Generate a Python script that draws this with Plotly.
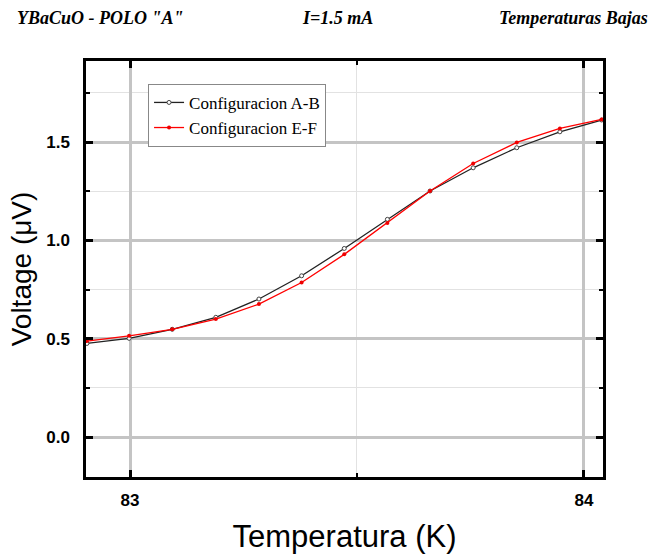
import plotly.graph_objects as go

temp = [82.905, 82.998, 83.093, 83.189, 83.284, 83.378, 83.472, 83.567, 83.661, 83.756, 83.852, 83.947, 84.039]
v_ab = [0.476, 0.502, 0.548, 0.609, 0.702, 0.820, 0.959, 1.107, 1.251, 1.369, 1.471, 1.552, 1.612]
v_ef = [0.488, 0.515, 0.548, 0.600, 0.676, 0.786, 0.929, 1.089, 1.251, 1.391, 1.498, 1.569, 1.615]

x_ticks = [83, 84]
y_ticks = [0.0, 0.5, 1.0, 1.5]
y_tick_labels = ["0.0", "0.5", "1.0", "1.5"]

fig = go.Figure()
fig.add_trace(go.Scatter(
    x=temp, y=v_ab, mode="lines+markers", name="Configuracion A-B",
    line=dict(color="#222222", width=1.3),
    marker=dict(symbol="circle", size=4, color="white", line=dict(color="#444444", width=1)),
))
fig.add_trace(go.Scatter(
    x=temp, y=v_ef, mode="lines+markers", name="Configuracion E-F",
    line=dict(color="#ff0000", width=1.3),
    marker=dict(symbol="circle", size=4, color="#ee0000"),
))

axis_common = dict(
    showline=True, linecolor="black", linewidth=2.5, mirror="ticks",
    ticks="inside", ticklen=7, tickwidth=2.5, tickcolor="black",
    showgrid=True, gridcolor="#c4c4c4", gridwidth=2.5, zeroline=False,
    tickfont=dict(family="Liberation Sans", size=17, color="black", weight="bold"),
    automargin=False,
)

fig.update_xaxes(
    **axis_common,
    range=[82.903, 84.042], tickvals=x_ticks, ticktext=[str(t) for t in x_ticks],
    minor=dict(tickvals=[83.5], ticks="inside", ticklen=4, tickwidth=2, tickcolor="black",
               showgrid=True, gridcolor="#e2e2e2", gridwidth=1),
    title=dict(text="Temperatura (K)", font=dict(family="Liberation Sans", size=31, color="black"), standoff=30),
    ticklabelstandoff=6,
)
fig.update_yaxes(
    **axis_common,
    range=[-0.203, 1.912], tickvals=y_ticks, ticktext=y_tick_labels,
    minor=dict(tickvals=[-0.25, 0.25, 0.75, 1.25, 1.75], ticks="inside", ticklen=4, tickwidth=2, tickcolor="black",
               showgrid=True, gridcolor="#e2e2e2", gridwidth=1),
    title=dict(text="Voltage (\u03bcV)", font=dict(family="Liberation Sans", size=28, color="black"), standoff=7),
    ticklabelstandoff=10,
)

title_font = dict(family="Liberation Serif", size=18, color="black")
for txt, xp, anchor in [("YBaCuO - POLO \"A\"", 15, "left"), ("I=1.5 mA", 300, "left"), ("Temperaturas Bajas", 650, "right")]:
    fig.add_annotation(text="<b><i>" + txt + "</i></b>", xref="paper", yref="paper",
                       x=(xp - 86) / 517, y=1 + (61 - 18) / 416, xanchor=anchor, yanchor="middle",
                       showarrow=False, font=title_font)

fig.update_layout(
    width=653, height=554,
    margin=dict(l=86, r=50, t=61, b=77),
    plot_bgcolor="white", paper_bgcolor="white",
    showlegend=True,
    legend=dict(x=0.12, y=0.945, xanchor="left", yanchor="top",
                bordercolor="#888888", borderwidth=1, bgcolor="white",
                font=dict(family="Liberation Serif", size=17, color="black"),
                tracegroupgap=0, itemwidth=30),
)

fig.write_html("out.html")
